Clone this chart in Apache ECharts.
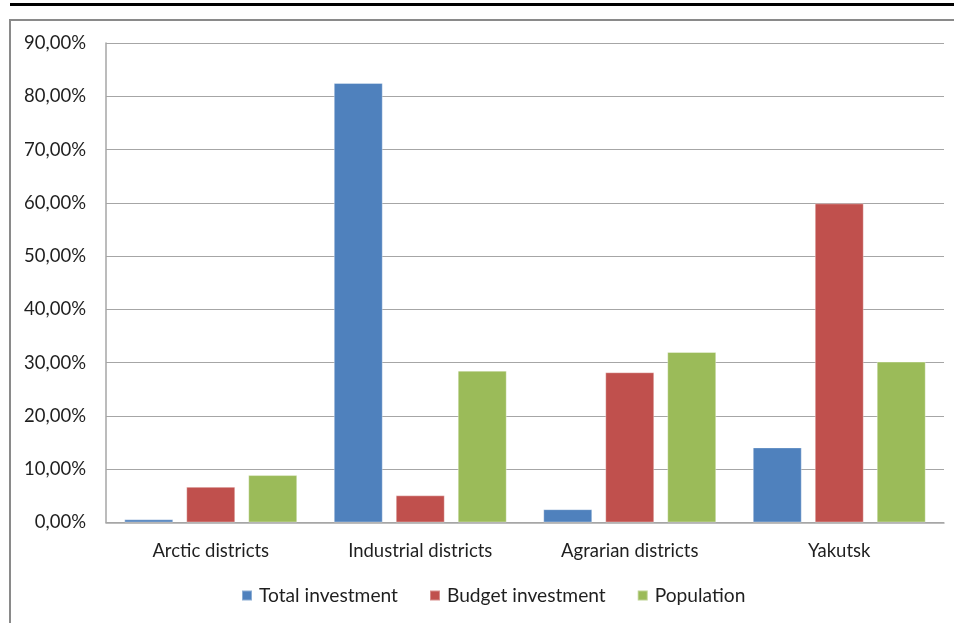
<!DOCTYPE html>
<html>
<head>
<meta charset="utf-8">
<script src="https://cdn.jsdelivr.net/npm/echarts@6/dist/echarts.min.js"></script>
<style>
  html, body { margin: 0; padding: 0; background: #fff; }
  #chart { width: 954px; height: 623px; }
</style>
</head>
<body>
<div id="chart"></div>
<script>
// Share of investment and population by district group, in percent
const categories = ['Arctic districts', 'Industrial districts', 'Agrarian districts', 'Yakutsk'];
const totalInvestment = [0.6, 82.5, 2.5, 14.1];
const budgetInvestment = [6.7, 5.1, 28.2, 59.9];
const population = [8.9, 28.5, 32.0, 30.2];
const seriesNames = ['Total investment', 'Budget investment', 'Population'];
const colors = ['#4F81BD', '#C0504D', '#9BBB59'];

const FONT = 'Lato, "Open Sans", sans-serif';
const chart = echarts.init(document.getElementById('chart'), null, { renderer: 'canvas' });

const barStyle = (c) => ({ color: c, borderColor: 'rgba(255,255,255,0.35)', borderWidth: 1 });

chart.setOption({
  animation: false,
  backgroundColor: '#fff',
  color: colors,
  textStyle: { fontFamily: FONT },
  grid: { left: 106, right: 10, top: 43, bottom: 100.5, containLabel: false },
  graphic: [
    // heavy rule across the top
    { type: 'rect', shape: { x: 10, y: 3, width: 944, height: 3 }, style: { fill: '#000' }, silent: true },
    // frame: top and left edges
    { type: 'rect', shape: { x: 10, y: 19, width: 944, height: 2 }, style: { fill: '#8a8a8a' }, silent: true },
    { type: 'rect', shape: { x: 9, y: 19, width: 2, height: 604 }, style: { fill: '#8a8a8a' }, silent: true }
  ],
  legend: {
    bottom: 13,
    left: 236,
    itemWidth: 10,
    itemHeight: 10,
    itemGap: 31,
    icon: 'rect',
    data: seriesNames,
    textStyle: { fontFamily: FONT, fontSize: 19.2, color: '#1f1f1f', padding: [0, 0, 0, 2] }
  },
  xAxis: {
    type: 'category',
    data: categories,
    axisLine: { show: true, lineStyle: { color: '#a6a6a6', width: 1.5 } },
    axisTick: { show: false },
    axisLabel: { fontFamily: FONT, fontSize: 18.5, color: '#1f1f1f', margin: 19 }
  },
  yAxis: {
    type: 'value',
    min: 0,
    max: 90,
    interval: 10,
    axisLine: { show: true, lineStyle: { color: '#a6a6a6', width: 1.5 } },
    axisTick: { show: false },
    splitLine: { show: true, lineStyle: { color: '#a6a6a6', width: 1.2 } },
    axisLabel: {
      fontFamily: FONT, fontSize: 18.5, color: '#1f1f1f', margin: 20,
      formatter: (v) => v.toFixed(2).replace('.', ',') + '%'
    }
  },
  series: [
    { name: seriesNames[0], type: 'bar', data: totalInvestment, barWidth: 49, barGap: '26.5%', itemStyle: barStyle(colors[0]) },
    { name: seriesNames[1], type: 'bar', data: budgetInvestment, barWidth: 49, barGap: '26.5%', itemStyle: barStyle(colors[1]) },
    { name: seriesNames[2], type: 'bar', data: population, barWidth: 49, barGap: '26.5%', itemStyle: barStyle(colors[2]) }
  ]
});
</script>
</body>
</html>
